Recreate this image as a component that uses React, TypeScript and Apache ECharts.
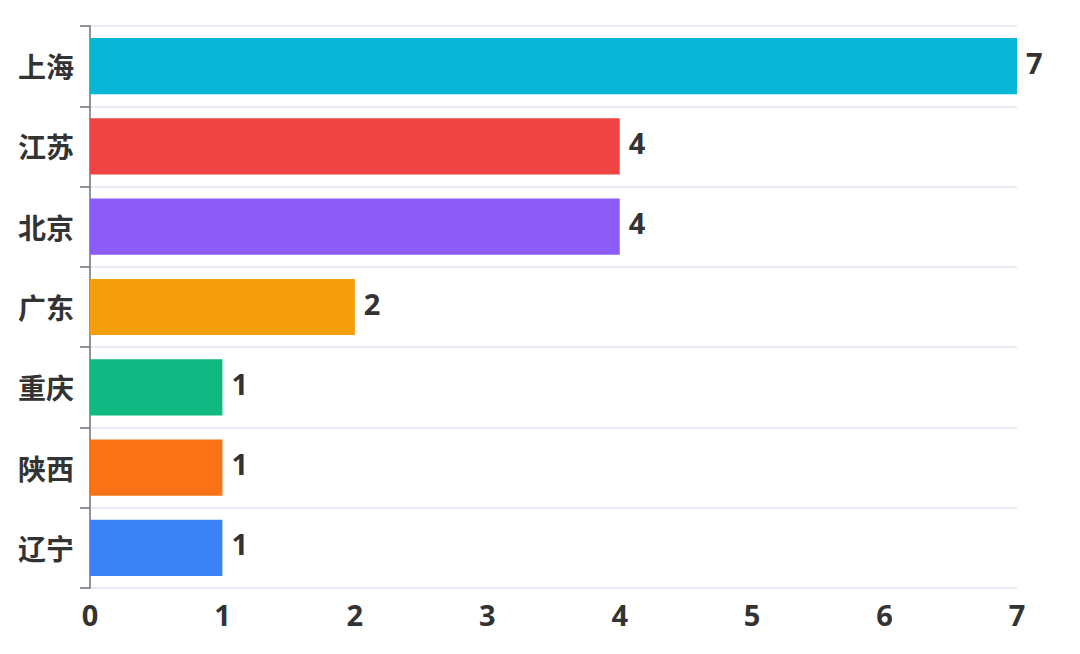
import React, { useEffect, useRef } from "react";
import * as echarts from "echarts";

const categories = ["上海", "江苏", "北京", "广东", "重庆", "陕西", "辽宁"];
const values = [7, 4, 4, 2, 1, 1, 1];
const barColors = ["#06b6d4", "#ef4444", "#8b5cf6", "#f59e0b", "#10b981", "#f97316", "#3b82f6"];
const xTicks = [0, 1, 2, 3, 4, 5, 6, 7];

const CJK_FONT = "'Noto Sans CJK SC', 'Noto Sans', sans-serif";
const NUM_FONT = "'Open Sans', 'Noto Sans', sans-serif";

export default function App() {
  const ref = useRef<HTMLDivElement>(null);
  useEffect(() => {
    document.body.style.margin = "0";
    if (!ref.current) return;
    const chart = echarts.init(ref.current, null, { renderer: "svg" });
    chart.setOption({
      animation: false,
      grid: { left: 90, right: 63, top: 26, bottom: 66, containLabel: false },
      xAxis: {
        type: "value",
        min: xTicks[0],
        max: xTicks[xTicks.length - 1],
        interval: 1,
        axisLine: { show: false },
        axisTick: { show: false },
        splitLine: { show: false },
        axisLabel: {
          margin: 12,
          color: "#333",
          fontSize: 29,
          fontWeight: "bold",
          fontFamily: NUM_FONT,
        },
      },
      yAxis: {
        type: "category",
        inverse: true,
        data: categories,
        axisLine: { show: true, lineStyle: { color: "#6e7079", width: 1.5 } },
        axisTick: { show: true, length: 10, lineStyle: { color: "#6e7079", width: 1.5 } },
        splitLine: { show: true, lineStyle: { color: "#e0e6f1", width: 1.5 } },
        axisLabel: {
          margin: 16,
          color: "#333",
          fontSize: 28,
          fontWeight: "bold",
          fontFamily: CJK_FONT,
          padding: [0, 0, 10, 0],
        },
      },
      series: [
        {
          type: "bar",
          barCategoryGap: "30%",
          data: values.map((v, i) => ({ value: v, itemStyle: { color: barColors[i] } })),
          label: {
            show: true,
            position: "right",
            distance: 9,
            offset: [0, -4],
            color: "#333",
            fontSize: 29,
            fontWeight: "bold",
            fontFamily: NUM_FONT,
          },
        },
      ],
    });
    return () => chart.dispose();
  }, []);
  return <div ref={ref} style={{ width: 1080, height: 654 }} />;
}
